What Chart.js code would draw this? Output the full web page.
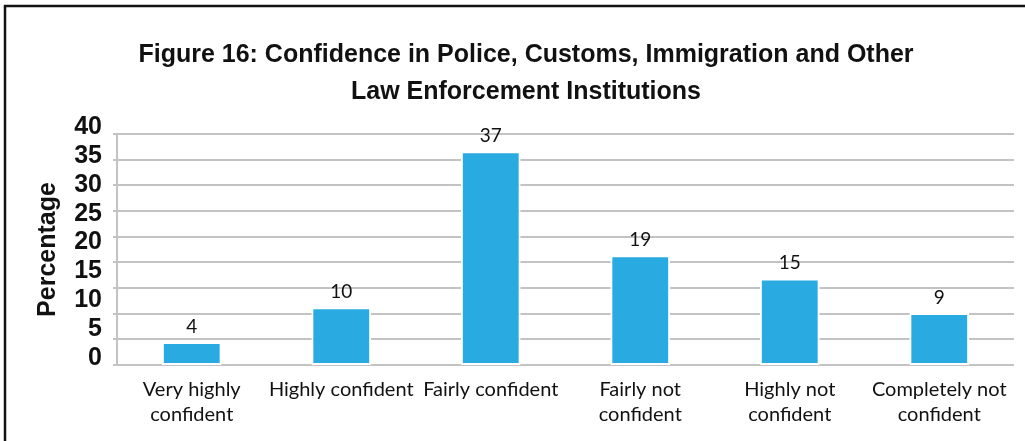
<!DOCTYPE html>
<html>
<head>
<meta charset="utf-8">
<title>Figure 16</title>
<script src="https://cdn.jsdelivr.net/npm/chart.js@4.4.1/dist/chart.umd.min.js"></script>
<style>
  html, body { margin: 0; padding: 0; background: #fff; }
  canvas { display: block; }
</style>
</head>
<body>
<canvas id="chart" width="1025" height="441"></canvas>
<script>
// Survey categories and the share of respondents (%) in each
const categories = [
  ['Very highly', 'confident'],
  'Highly confident',
  'Fairly confident',
  ['Fairly not', 'confident'],
  ['Highly not', 'confident'],
  ['Completely not', 'confident']
];
const percentages = [4, 10, 37, 19, 15, 9];
const yTicks = [0, 5, 10, 15, 20, 25, 30, 35, 40];
const titleLines = [
  'Figure 16: Confidence in Police, Customs, Immigration and Other',
  'Law Enforcement Institutions'
];
const yAxisTitle = 'Percentage';

const BAR_BLUE = '#29aae1';
const GRID_GREY = '#c3c3c3';

// Frame along the top and left edge, plus the two-line heading
const framePlugin = {
  id: 'frameAndHeading',
  beforeDraw(chart) {
    const ctx = chart.ctx;
    ctx.save();
    ctx.fillStyle = '#fff';
    ctx.fillRect(0, 0, chart.width, chart.height);
    ctx.strokeStyle = '#111';
    ctx.lineWidth = 2.5;
    ctx.beginPath();
    ctx.moveTo(5, chart.height);
    ctx.lineTo(5, 6);
    ctx.lineTo(chart.width, 6);
    ctx.stroke();
    ctx.restore();
  },
  afterDraw(chart) {
    const ctx = chart.ctx;
    ctx.save();
    ctx.fillStyle = '#111';
    ctx.font = 'bold 25px "Liberation Sans", Arimo, sans-serif';
    ctx.textAlign = 'center';
    ctx.textBaseline = 'alphabetic';
    ctx.fillText(titleLines[0], 526, 62);
    ctx.fillText(titleLines[1], 526, 99);
    ctx.restore();
  }
};

// Value printed above each bar
const valueLabelPlugin = {
  id: 'valueLabels',
  afterDatasetsDraw(chart) {
    const ctx = chart.ctx;
    const meta = chart.getDatasetMeta(0);
    const values = chart.data.datasets[0].data;
    ctx.save();
    ctx.fillStyle = '#111';
    ctx.font = '19px Lato, "Liberation Sans", sans-serif';
    ctx.textAlign = 'center';
    ctx.textBaseline = 'alphabetic';
    meta.data.forEach((bar, i) => {
      ctx.fillText(String(values[i]), bar.x, bar.y - 9);
    });
    ctx.restore();
  }
};

new Chart(document.getElementById('chart'), {
  type: 'bar',
  data: {
    labels: categories,
    datasets: [{
      data: percentages,
      backgroundColor: BAR_BLUE,
      borderColor: '#ffffff',
      borderWidth: 2,
      borderSkipped: false,
      barPercentage: 0.40,
      categoryPercentage: 1.0,
      yAxisID: 'y'
    }]
  },
  options: {
    responsive: false,
    animation: false,
    devicePixelRatio: 1,
    layout: { padding: { left: 18, right: 11, top: 134, bottom: 0 } },
    plugins: {
      legend: { display: false },
      title: { display: false },
      tooltip: { enabled: false }
    },
    scales: {
      x: {
        grid: { display: false, drawTicks: false },
        border: { display: false },
        ticks: {
          color: '#111',
          font: { family: 'Lato, "Liberation Sans", sans-serif', size: 20, lineHeight: 1.25 },
          padding: 12,
          maxRotation: 0,
          autoSkip: false
        },
        afterFit(scale) { scale.height = 76; }
      },
      y: {
        position: 'left',
        weight: 2,
        min: 0,
        max: 40,
        afterBuildTicks(scale) { scale.ticks = yTicks.map(v => ({ value: v })); },
        grid: { display: false, drawTicks: false },
        border: { display: false },
        ticks: {
          color: '#111',
          font: { family: '"Liberation Sans", sans-serif', size: 25, weight: 'bold' },
          padding: 11,
          labelOffset: -7,
          autoSkip: false
        },
        title: {
          display: true,
          text: yAxisTitle,
          color: '#111',
          font: { family: '"Liberation Sans", sans-serif', size: 25, weight: 'bold' },
          padding: { top: 15, bottom: 0 }
        },
        afterFit(scale) { scale.width = 95; }
      },
      yGrid: {
        type: 'linear',
        position: 'left',
        weight: 1,
        min: 0,
        max: 45,
        ticks: { display: false, stepSize: 5 },
        grid: { color: GRID_GREY, lineWidth: 2, tickLength: 4, drawTicks: true },
        border: { display: true, color: GRID_GREY, width: 2 },
        afterFit(scale) { scale.width = 4; }
      }
    }
  },
  plugins: [framePlugin, valueLabelPlugin]
});
</script>
</body>
</html>
